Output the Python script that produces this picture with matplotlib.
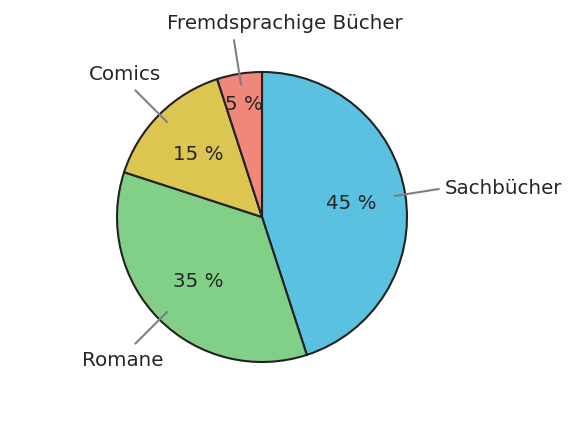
import numpy as np
import matplotlib
matplotlib.use("Agg")
import matplotlib.pyplot as plt

labels = ["Sachbücher", "Romane", "Comics", "Fremdsprachige Bücher"]
values = [45, 35, 15, 5]
colors = ["#5bc1e0", "#82cf88", "#dcc550", "#f0877b"]

# layout: label text positions (data units, radius=1) and alignment
label_pos = [(1.262, 0.20, "left"), (-0.96, -0.985, "center"),
             (-0.945, 0.99, "center"), (0.16, 1.34, "center")]
pct_dist = [0.62, 0.62, 0.62, 0.79]

fig = plt.figure(figsize=(5.78, 4.39), dpi=100)
ax = fig.add_axes([0, 0, 1, 1])

wedges, _ = ax.pie(values, colors=colors, startangle=90, counterclock=False,
                   radius=1.0, wedgeprops=dict(edgecolor="#222222", linewidth=1.5))
ax.set_xlim(-262 / 145, (578 - 262) / 145)
ax.set_ylim(-(439 - 218) / 145, 218 / 145)
ax.set_aspect("equal")
ax.axis("off")

tc = "#262626"
for w, lab, v, (tx, ty, ha), pd in zip(wedges, labels, values, label_pos, pct_dist):
    ang = np.deg2rad((w.theta1 + w.theta2) / 2)
    c, s = np.cos(ang), np.sin(ang)
    ax.plot([0.92 * c, 1.24 * c], [0.92 * s, 1.24 * s], color="#808080", lw=1.5,
            solid_capstyle="butt", zorder=3)
    ax.text(tx, ty, lab, ha=ha, va="center", fontsize=14.3, color=tc)
    ax.text(pd * c, pd * s, f"{v} %", ha="center", va="center", fontsize=14.3, color=tc)

fig.savefig("out.png", dpi=100)
